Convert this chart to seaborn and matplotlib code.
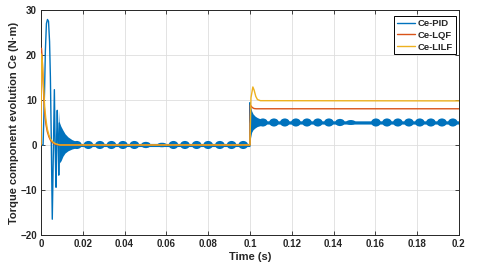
import matplotlib.pyplot as plt
from matplotlib.patches import Ellipse
import seaborn as sns

# ---- data ----
# Ce-LQF
t_lqf = [0, 0.0002, 0.0006, 0.0010, 0.0014, 0.0018, 0.0024, 0.0030, 0.0038, 0.0046, 0.0056, 0.0068, 0.0085,
         0.1, 0.1002, 0.1006, 0.1012, 0.1020, 0.1030, 0.2]
ce_lqf = [0, 21.5, 19.0, 14.0, 10.0, 7.0, 4.5, 3.0, 1.8, 1.0, 0.5, 0.15, 0,
          0, 8.9, 8.6, 8.3, 8.1, 8.05, 8.05]

# Ce-LILF
t_lilf = [0, 0.0002, 0.0006, 0.0010, 0.0014, 0.0018, 0.0024, 0.0030, 0.0038, 0.0046, 0.0056, 0.0068, 0.0090,
          0.1, 0.1005, 0.1014, 0.1020, 0.1028, 0.1036, 0.1050, 0.2]
ce_lilf = [0, 20.2, 18.8, 15.5, 11.5, 8.2, 5.5, 3.6, 2.2, 1.3, 0.7, 0.3, 0,
           0, 10.5, 12.9, 12.2, 10.8, 10.1, 9.85, 9.8]

# Ce-PID: start-up transient and step at 0.1 s
t_pid = [0, 0.0010, 0.0017, 0.0021, 0.0026, 0.0031, 0.0036, 0.0041, 0.0045, 0.0049, 0.0054, 0.0059,
         0.0064, 0.0068, 0.0072, 0.0075, 0.0078, 0.0082, 0.0085, 0.0088, 0.0100, 0.1, 0.1, 0.1003, 0.2]
ce_pid = [0, 0, 12, 21, 27, 27.9, 27.5, 23, 15, 2, -16.5, -2,
          12.3, -1, -9.4, 2, 7.7, 0, -6.7, 4.9, 0, 0, 9.4, 5, 5]

# Ce-PID: envelope of the fast ripple
band1_t = [0.0085, 0.0088, 0.0096, 0.0105, 0.0115, 0.0129, 0.0148, 0.0163, 0.0175, 0.1]
band1_hi = [7.7, 4.9, 4.1, 3.3, 2.5, 1.8, 1.2, 0.9, 0.35, 0.35]
band1_lo = [-6.7, -4.0, -3.5, -2.5, -1.8, -1.3, -0.9, -0.7, -0.35, -0.35]
band2_t = [0.1, 0.1003, 0.1008, 0.1015, 0.1025, 0.1035, 0.1050, 0.1060, 0.2]
band2_hi = [9.4, 8.6, 7.6, 6.9, 6.4, 6.1, 5.8, 5.35, 5.35]
band2_lo = [0, 1.6, 2.8, 3.4, 3.8, 4.1, 4.3, 4.65, 4.65]

# Ce-PID: beat "beads" (centre time, half height)
bead1_t = [0.0172, 0.0227, 0.0282, 0.0337, 0.0392, 0.0447, 0.0502, 0.0579,
           0.0634, 0.0689, 0.0745, 0.0800, 0.0856, 0.0912, 0.0968]
bead1_amp = [0.9, 0.9, 0.9, 0.9, 0.9, 0.9, 0.7, 0.5,
             0.9, 0.9, 0.9, 0.9, 0.9, 0.9, 0.9]
bead2_t = [0.1062, 0.1115, 0.1167, 0.1220, 0.1273, 0.1325, 0.1378, 0.1431, 0.1483,
           0.1603, 0.1656, 0.1708, 0.1761, 0.1813, 0.1866, 0.1919, 0.1971]
bead2_amp = [0.9, 0.9, 0.9, 0.9, 0.9, 0.9, 0.9, 0.8, 0.55,
             0.9, 0.9, 0.9, 0.9, 0.9, 0.9, 0.9, 0.9]

x_ticks = [0, 0.02, 0.04, 0.06, 0.08, 0.1, 0.12, 0.14, 0.16, 0.18, 0.2]
x_labels = ['0', '0.02', '0.04', '0.06', '0.08', '0.1', '0.12', '0.14', '0.16', '0.18', '0.2']
y_ticks = [-20, -10, 0, 10, 20, 30]

c_pid = '#0072BD'
c_lqf = '#D95319'
c_lilf = '#EDB120'

sns.set_style('ticks')
plt.rcParams['font.family'] = ['Liberation Sans', 'DejaVu Sans']
plt.rcParams['font.weight'] = 'bold'

fig = plt.figure(figsize=(4.8, 2.71), dpi=100)
ax = fig.add_axes([0.0854, 0.133, 0.8706, 0.830])

# PID
ax.fill_between(band1_t, band1_lo, band1_hi, color=c_pid, lw=0, zorder=2)
ax.fill_between(band2_t, band2_lo, band2_hi, color=c_pid, lw=0, zorder=2)
for t, a in zip(bead1_t, bead1_amp):
    ax.add_patch(Ellipse((t, 0), 0.0046, 2 * a, color=c_pid, lw=0, zorder=2))
for t, a in zip(bead2_t, bead2_amp):
    ax.add_patch(Ellipse((t, 5), 0.0046, 2 * a, color=c_pid, lw=0, zorder=2))
sns.lineplot(x=t_pid, y=ce_pid, estimator=None, sort=False, color=c_pid, lw=1.0,
             label='Ce-PID', ax=ax, zorder=2)
sns.lineplot(x=t_lqf, y=ce_lqf, estimator=None, sort=False, color=c_lqf, lw=1.0,
             label='Ce-LQF', ax=ax, zorder=3)
sns.lineplot(x=t_lilf, y=ce_lilf, estimator=None, sort=False, color=c_lilf, lw=1.0,
             label='Ce-LILF', ax=ax, zorder=4)

ax.set_xlim(0, 0.2)
ax.set_ylim(-20, 30)
ax.set_xticks(x_ticks)
ax.set_xticklabels(x_labels)
ax.set_yticks(y_ticks)
ax.grid(True, color='#DEDEDE', lw=0.6)
ax.set_axisbelow(True)
ax.tick_params(direction='in', length=3, width=0.6, top=True, right=True,
               labelsize=7, pad=3, colors='#262626')
for lab in ax.get_xticklabels() + ax.get_yticklabels():
    lab.set_fontweight('bold')
for s in ax.spines.values():
    s.set_visible(True)
    s.set_color('#262626')
    s.set_linewidth(0.7)

ax.set_xlabel('Time (s)', fontsize=8, fontweight='bold', labelpad=2)
ax.set_ylabel('Torque component evolution Ce (N·m)', fontsize=8, fontweight='bold', labelpad=1)

leg = ax.legend(loc='upper right', bbox_to_anchor=(0.993, 0.973), fancybox=False, framealpha=1,
                edgecolor='black', fontsize=6.8, handlelength=1.9, borderpad=0.3,
                labelspacing=0.3, handletextpad=0.35, borderaxespad=0)
leg.get_frame().set_linewidth(0.7)
for txt in leg.get_texts():
    txt.set_fontweight('bold')

fig.savefig('out.png', dpi=100)
